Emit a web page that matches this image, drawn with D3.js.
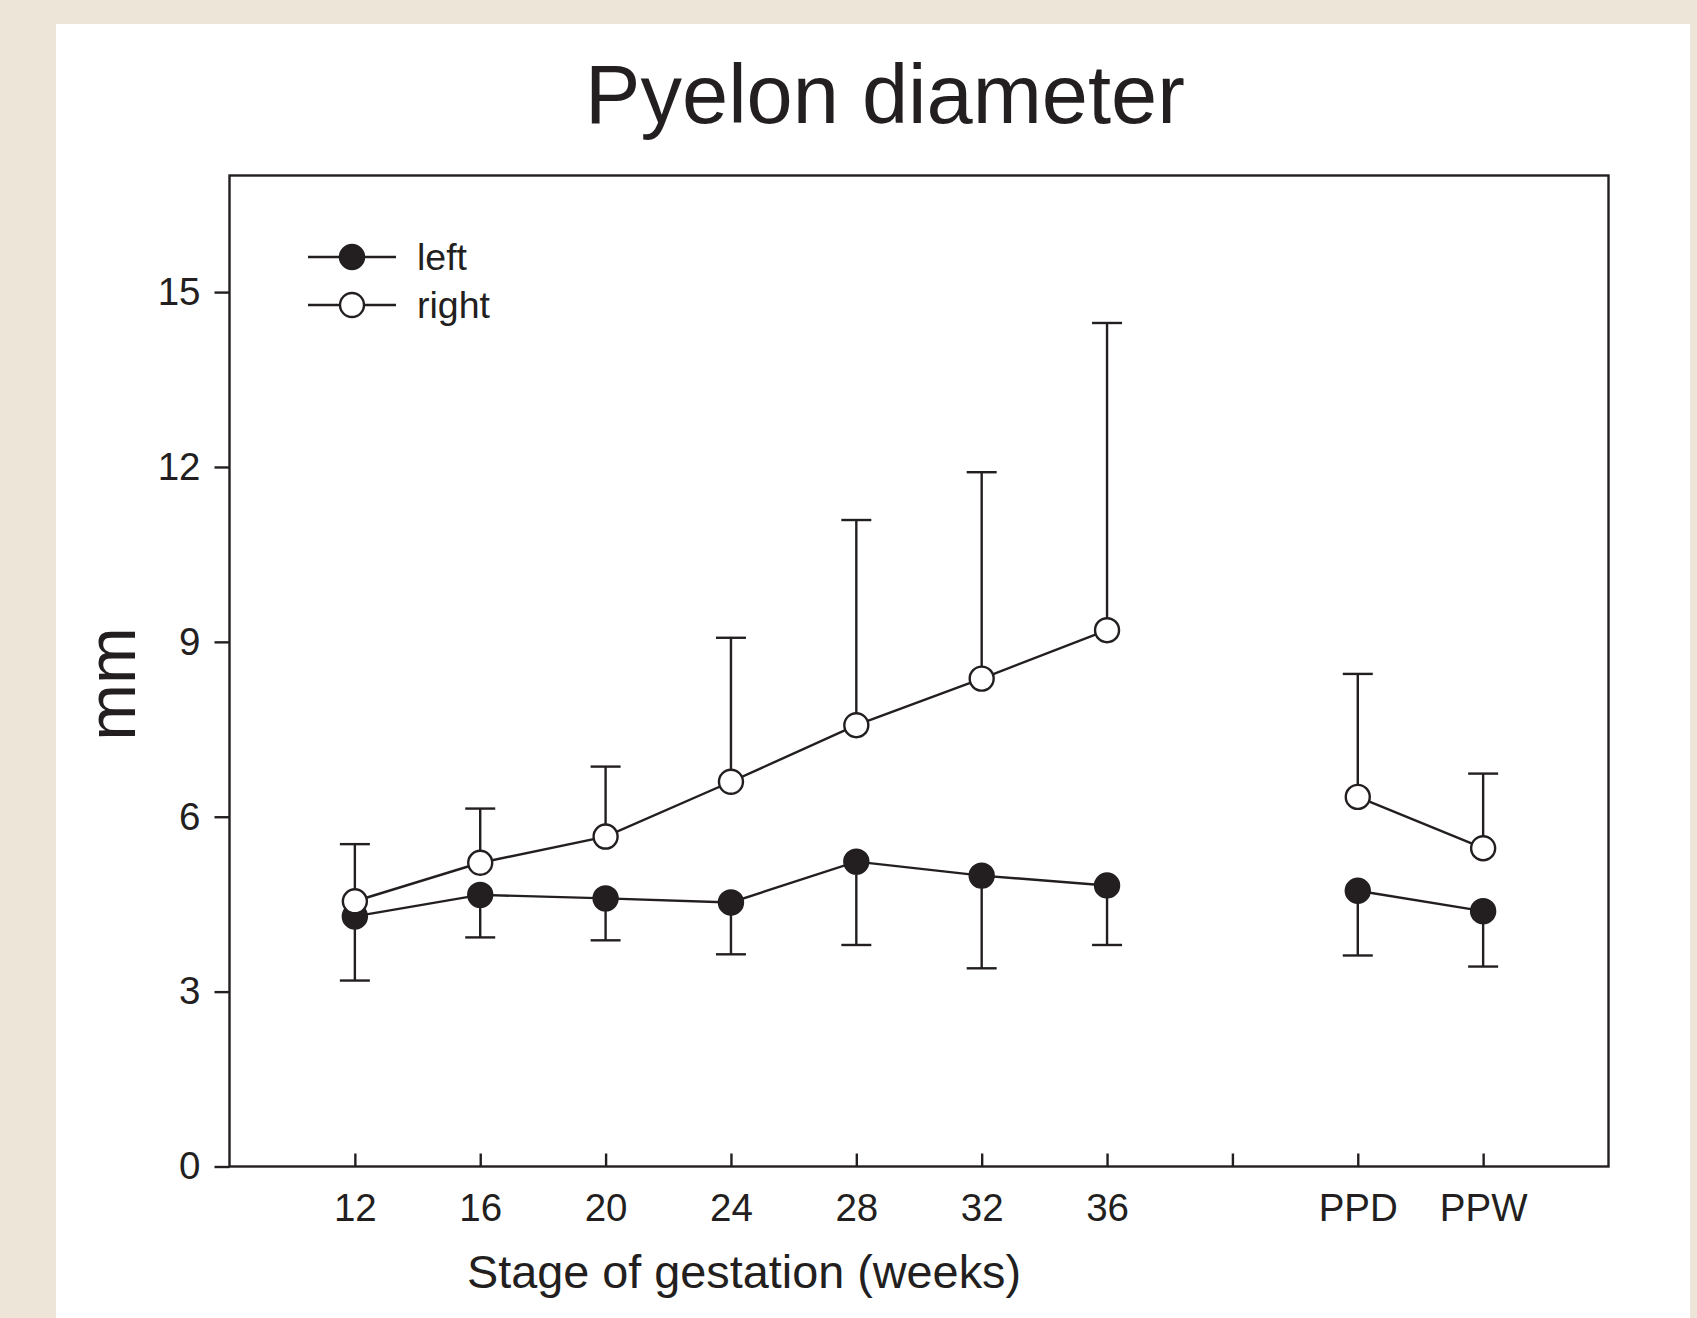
<!DOCTYPE html>
<html>
<head>
<meta charset="utf-8">
<script src="https://cdn.jsdelivr.net/npm/d3@7"></script>
<style>
  html, body { margin: 0; padding: 0; background: #ede6d8; }
  svg { display: block; }
  text { font-family: "Liberation Sans", Arial, Helvetica, sans-serif; fill: #231f20; }
</style>
</head>
<body>
<svg id="chart" width="1697" height="1318"></svg>
<script>
// ---- data ----
const axisCategories = ["12", "16", "20", "24", "28", "32", "36", "", "PPD", "PPW"];
const stages = ["12", "16", "20", "24", "28", "32", "36", "PPD", "PPW"];
const segments = [["12", "16", "20", "24", "28", "32", "36"], ["PPD", "PPW"]];
const leftMean  = [4.29, 4.66, 4.60, 4.53, 5.23, 4.99, 4.82, 4.73, 4.38];
const leftLower = [3.19, 3.93, 3.88, 3.64, 3.80, 3.40, 3.80, 3.62, 3.43];
const rightMean  = [4.55, 5.21, 5.66, 6.60, 7.57, 8.37, 9.20, 6.34, 5.46];
const rightUpper = [5.53, 6.14, 6.86, 9.07, 11.09, 11.91, 14.47, 8.45, 6.74];
const yTicks = [0, 3, 6, 9, 12, 15];
const seriesNames = ["left", "right"];
const titleText = "Pyelon diameter";
const xTitle = "Stage of gestation (weeks)";
const yTitle = "mm";

// ---- layout ----
const svg = d3.select("#chart");
const ink = "#231f20";
const sw = 2.4;
const L = 229.5, R = 1608.5, T = 175.5, B = 1166.5;

svg.append("rect").attr("x", 56).attr("y", 24).attr("width", 1690 - 56).attr("height", 1318 - 24)
  .attr("fill", "#ffffff");

const x = d3.scalePoint().domain(axisCategories).range([L, R]).padding(1);
const y = d3.scaleLinear().domain([0, 17]).range([B, T]);

// frame
svg.append("rect").attr("x", L).attr("y", T).attr("width", R - L).attr("height", B - T)
  .attr("fill", "none").attr("stroke", ink).attr("stroke-width", sw);

// y axis
const yAxis = d3.axisLeft(y).tickValues(yTicks).tickSize(15).tickPadding(14).tickFormat(d3.format("d"));
const gy = svg.append("g").attr("transform", `translate(${L},0)`).call(yAxis);
gy.select(".domain").remove();
gy.selectAll(".tick line").attr("stroke", ink).attr("stroke-width", sw);
gy.selectAll(".tick text").attr("font-size", 38.5).attr("fill", ink)
  .attr("font-family", "Liberation Sans, Arial, sans-serif");

// x axis (ticks inward)
const xAxis = d3.axisBottom(x).tickSize(-13).tickPadding(27).tickSizeOuter(0);
const gx = svg.append("g").attr("transform", `translate(0,${B})`).call(xAxis);
gx.select(".domain").remove();
gx.selectAll(".tick line").attr("stroke", ink).attr("stroke-width", sw);
gx.selectAll(".tick text").attr("font-size", 38.5).attr("fill", ink)
  .attr("font-family", "Liberation Sans, Arial, sans-serif");

// titles
svg.append("text").attr("x", 885).attr("y", 123).attr("text-anchor", "middle")
  .attr("font-size", 83).text(titleText);
svg.append("text").attr("x", 744).attr("y", 1288).attr("text-anchor", "middle")
  .attr("font-size", 46.8).text(xTitle);
svg.append("text").attr("transform", "translate(135,684) rotate(-90)").attr("text-anchor", "middle")
  .attr("font-size", 68).text(yTitle);

// ---- data marks ----
const idx = s => stages.indexOf(s);
const capW = 15;
const plot = svg.append("g");

function drawSeries(mean, errEnd, filled) {
  const g = plot.append("g");
  // error bars
  stages.forEach((s, i) => {
    g.append("line").attr("x1", x(s)).attr("x2", x(s)).attr("y1", y(mean[i])).attr("y2", y(errEnd[i]))
      .attr("stroke", ink).attr("stroke-width", sw);
    g.append("line").attr("x1", x(s) - capW).attr("x2", x(s) + capW).attr("y1", y(errEnd[i])).attr("y2", y(errEnd[i]))
      .attr("stroke", ink).attr("stroke-width", sw);
  });
  const line = d3.line().x(s => x(s)).y(s => y(mean[idx(s)]));
  segments.forEach(seg => {
    g.append("path").attr("d", line(seg)).attr("fill", "none").attr("stroke", ink).attr("stroke-width", sw);
  });
  stages.forEach((s, i) => {
    g.append("circle").attr("cx", x(s)).attr("cy", y(mean[i])).attr("r", 12)
      .attr("fill", filled ? ink : "#ffffff").attr("stroke", ink).attr("stroke-width", sw);
  });
}
drawSeries(leftMean, leftLower, true);
drawSeries(rightMean, rightUpper, false);

// legend
const leg = svg.append("g");
seriesNames.forEach((name, i) => {
  const ly = 257 + i * 48;
  leg.append("line").attr("x1", 308).attr("x2", 396).attr("y1", ly).attr("y2", ly)
    .attr("stroke", ink).attr("stroke-width", sw);
  leg.append("circle").attr("cx", 352).attr("cy", ly).attr("r", 12)
    .attr("fill", i === 0 ? ink : "#ffffff").attr("stroke", ink).attr("stroke-width", sw);
  leg.append("text").attr("x", 417).attr("y", ly + 13).attr("font-size", 37.5).text(name);
});
</script>
</body>
</html>
